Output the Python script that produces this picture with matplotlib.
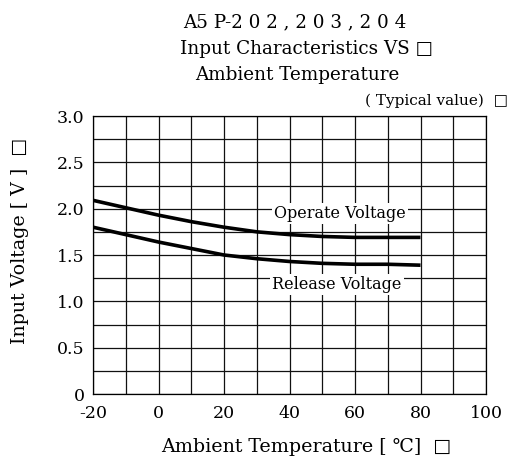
import numpy as np
import matplotlib
matplotlib.use("Agg")
import matplotlib.pyplot as plt
from matplotlib.ticker import MultipleLocator

plt.rcParams['font.family'] = ['DejaVu Serif', 'DejaVu Sans']
plt.rcParams['axes.unicode_minus'] = False

# data
temps = [-20, -10, 0, 10, 20, 30, 40, 50, 60, 70, 80]
operate_v = [2.09, 2.01, 1.93, 1.86, 1.80, 1.75, 1.72, 1.70, 1.69, 1.69, 1.69]
release_v = [1.80, 1.72, 1.64, 1.57, 1.50, 1.46, 1.43, 1.41, 1.40, 1.40, 1.39]
x_ticks = [-20, 0, 20, 40, 60, 80, 100]
y_ticks = [0, 0.5, 1.0, 1.5, 2.0, 2.5, 3.0]
y_tick_labels = ['0', '0.5', '1.0', '1.5', '2.0', '2.5', '3.0']

fig = plt.figure(figsize=(5.19, 4.61), dpi=100)
ax = fig.add_axes([93 / 519, 1 - 394 / 461, 393 / 519, 278 / 461])

ax.plot(temps, operate_v, color='black', lw=2.6, solid_capstyle='butt', zorder=3)
ax.plot(temps, release_v, color='black', lw=2.6, solid_capstyle='butt', zorder=3)

ax.set_xlim(-20, 100)
ax.set_ylim(0, 3.0)
ax.set_xticks(x_ticks)
ax.set_yticks(y_ticks)
ax.set_yticklabels(y_tick_labels)
ax.xaxis.set_minor_locator(MultipleLocator(10))
ax.yaxis.set_minor_locator(MultipleLocator(0.25))
ax.grid(True, which='both', color='#111111', lw=0.9)
ax.tick_params(which='both', length=0, labelsize=12.5, pad=6)
ax.tick_params(axis='x', pad=8)
for s in ax.spines.values():
    s.set_linewidth(0.9)

box = dict(facecolor='white', edgecolor='none', pad=1.5)
ax.text(55.5, 1.95, 'Operate Voltage', ha='center', va='center', fontsize=11.5, bbox=box, zorder=4)
ax.text(54.5, 1.18, 'Release Voltage', ha='center', va='center', fontsize=11.5, bbox=box, zorder=4)

fig.text(295 / 519, 1 - 22 / 461, 'A5 P-2 0 2 , 2 0 3 , 2 0 4', ha='center', va='center', fontsize=13.2)
fig.text(307 / 519, 1 - 49 / 461, 'Input Characteristics VS \u25a1', ha='center', va='center', fontsize=13.2)
fig.text(297 / 519, 1 - 75 / 461, 'Ambient Temperature', ha='center', va='center', fontsize=13.2)
fig.text(508 / 519, 1 - 101 / 461, '( Typical value)  \u25a1', ha='right', va='center', fontsize=11)

fig.text(20 / 519, 1 - 241 / 461, 'Input Voltage [ V ]  \u25a1', ha='center', va='center',
         rotation=90, fontsize=13.7)
fig.text(306 / 519, 1 - 447 / 461, 'Ambient Temperature [ \u2103]  \u25a1', ha='center', va='center',
         fontsize=13.7)

fig.savefig('out.png', dpi=100)
